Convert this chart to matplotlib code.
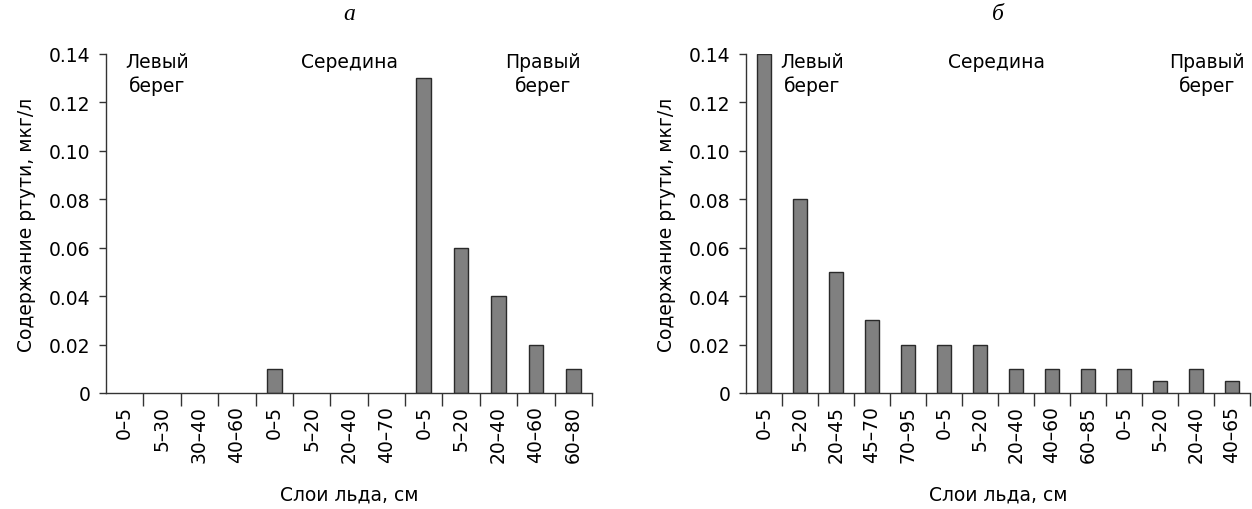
import matplotlib.pyplot as plt
import numpy as np

plt.rcParams['font.family'] = ['DejaVu Sans']

# panel а: ice layers (cm) from left bank, middle and right bank
layers_a = ['0–5', '5–30', '30–40', '40–60',
            '0–5', '5–20', '20–40', '40–70',
            '0–5', '5–20', '20–40', '40–60', '60–80']
hg_a = [0, 0, 0, 0,
        0.01, 0, 0, 0,
        0.13, 0.06, 0.04, 0.02, 0.01]

# panel б
layers_b = ['0–5', '5–20', '20–45', '45–70', '70–95',
            '0–5', '5–20', '20–40', '40–60', '60–85',
            '0–5', '5–20', '20–40', '40–65']
hg_b = [0.14, 0.08, 0.05, 0.03, 0.02,
        0.02, 0.02, 0.01, 0.01, 0.01,
        0.01, 0.005, 0.01, 0.005]

y_ticks = [0, 0.02, 0.04, 0.06, 0.08, 0.10, 0.12, 0.14]
y_labels = ['0', '0.02', '0.04', '0.06', '0.08', '0.10', '0.12', '0.14']
banks = ['Левый\nберег', 'Середина', 'Правый\nберег']

FS = 13.5
W, H = 1252, 510
fig = plt.figure(figsize=(W / 100, H / 100), dpi=100)
ax_a = fig.add_axes([106 / W, 116 / H, 486 / W, 339 / H])
ax_b = fig.add_axes([746 / W, 116 / H, 504 / W, 339 / H])


def draw_panel(ax, labels, values, title, bank_x, ylab_x):
    n = len(labels)
    x = np.arange(n) + 0.5
    edges = ['#2a2a2a' if v > 0 else 'none' for v in values]
    ax.bar(x, values, width=0.39, color='#808080', edgecolor=edges, linewidth=1)
    ax.set_xlim(0, n)
    ax.set_ylim(0, 0.14)

    ax.set_yticks(y_ticks)
    ax.set_yticklabels(y_labels)
    # ticks between categories, labels at category centres
    ax.set_xticks(np.arange(1, n + 1))
    ax.set_xticklabels([])
    ax.set_xticks(x, minor=True)
    ax.set_xticklabels(labels, minor=True, rotation=90, va='top', ha='center')
    ax.tick_params(axis='x', which='major', length=9, width=1, color='#333333')
    ax.tick_params(axis='x', which='minor', length=0, pad=9, labelsize=FS)
    ax.tick_params(axis='y', length=5, width=1, color='#333333', labelsize=FS, pad=6)

    for s in ['top', 'right']:
        ax.spines[s].set_visible(False)
    for s in ['left', 'bottom']:
        ax.spines[s].set_color('#333333')
        ax.spines[s].set_linewidth(1)

    ax.set_ylabel('Содержание ртути, мкг/л', fontsize=FS)
    ax.yaxis.set_label_coords(ylab_x, 0.5)
    ax.set_xlabel('Слои льда, см', fontsize=FS)
    ax.xaxis.set_label_coords(0.5, -0.27)

    for bx, txt in zip(bank_x, banks):
        ax.text(bx, 1.006, txt, transform=ax.transAxes, ha='center', va='top',
                fontsize=FS, linespacing=1.25)

    ax.text(0.5, 1.118, title, transform=ax.transAxes, ha='center', va='center',
            fontsize=17, style='italic', family='Liberation Serif')


draw_panel(ax_a, layers_a, hg_a, 'а', [0.105, 0.5, 0.899], -0.144)
draw_panel(ax_b, layers_b, hg_b, 'б', [0.131, 0.498, 0.915], -0.139)

fig.savefig('out.png', dpi=100)
